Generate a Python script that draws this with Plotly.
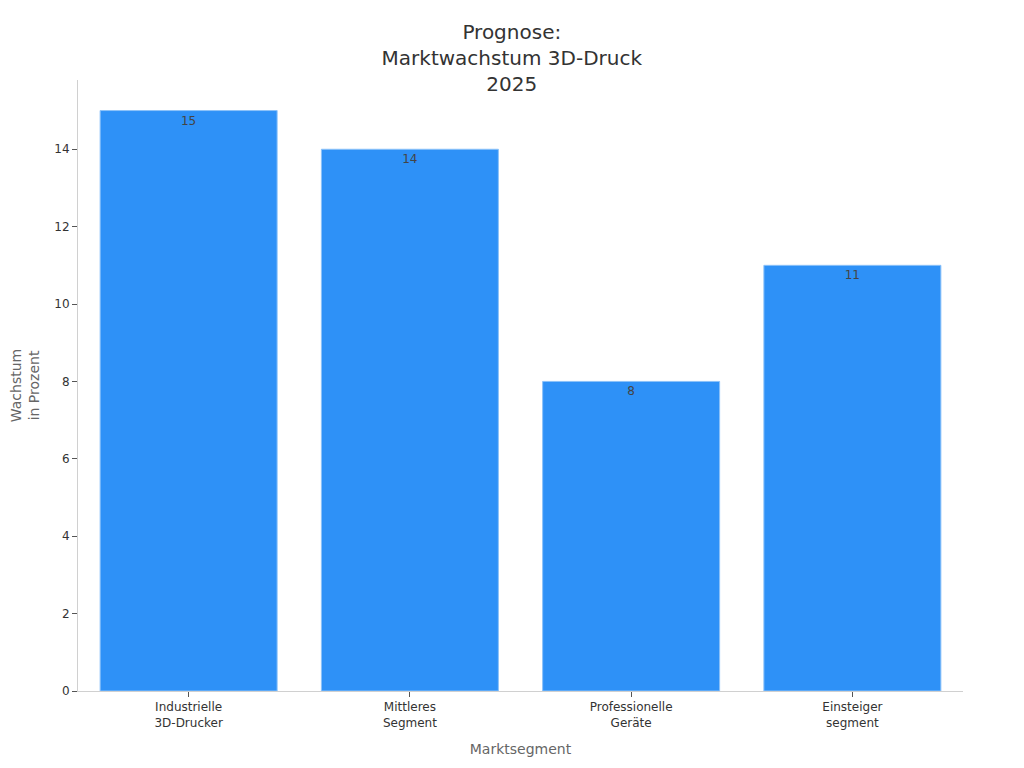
import plotly.graph_objects as go

kategorien = ["Industrielle<br>3D-Drucker", "Mittleres<br>Segment", "Professionelle<br>Geräte", "Einsteiger<br>segment"]
wachstum = [15, 14, 8, 11]

fig = go.Figure(go.Bar(
    x=kategorien,
    y=wachstum,
    text=wachstum,
    textposition="inside",
    insidetextanchor="end",
    textfont=dict(color="#444444", size=12),
    marker=dict(color="#2E91F7", line=dict(color="#8CC2F9", width=1)),
))

fig.update_layout(
    title=dict(text="Prognose:<br>Marktwachstum 3D-Druck<br>2025", x=0.492, xanchor="center",
               y=0.96, yanchor="top", font=dict(size=20, color="#333333")),
    font=dict(family="DejaVu Sans", size=12, color="#333333"),
    plot_bgcolor="white",
    paper_bgcolor="white",
    bargap=0.2,
    width=1024,
    height=768,
    margin=dict(l=70, r=69, t=72, b=85),
    showlegend=False,
)
fig.update_xaxes(title=dict(text="Marktsegment", font=dict(color="#666666", size=14)),
                 showline=True, linecolor="#D0D0D0", ticks="outside", tickcolor="#555555",
                 ticklen=5, showgrid=False)
fig.update_yaxes(title=dict(text="Wachstum<br>in Prozent", font=dict(color="#666666", size=14),
                            standoff=12),
                 automargin=False,
                 showline=True, linecolor="#D0D0D0", ticks="outside", tickcolor="#555555",
                 ticklen=5, showgrid=False, zeroline=False, dtick=2)

fig.write_html("out.html")
